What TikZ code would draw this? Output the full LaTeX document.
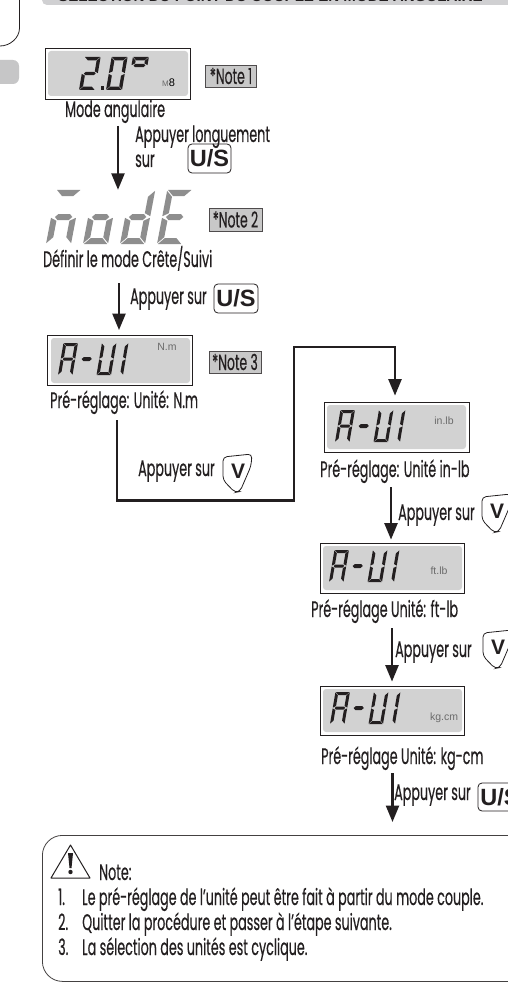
\documentclass[tikz,border=0pt]{standalone}
\usepackage{fontspec}
\usetikzlibrary{arrows.meta}
\setmainfont[FakeStretch=0.565,FakeBold=0.35]{Poppins}
\newfontfamily\keyfont[Ligatures=TeX]{Liberation Sans Bold}
\newfontfamily\unitfont{Liberation Sans}
\definecolor{lcdgrey}{HTML}{D2D2D2}
\definecolor{notegrey}{HTML}{C8C8C8}
\definecolor{headgrey}{HTML}{D0D0D2}
\definecolor{segbig}{HTML}{8E8E8E}
\definecolor{inkc}{HTML}{231F20}
\tikzset{
  txt/.style={inner sep=0pt,anchor=base west,text=inkc,font=\fontsize{22.5}{23}\selectfont},
  lcdframe/.style={draw=inkc,line width=.8pt,fill=white,inner sep=0pt},
  notebox/.style={draw=inkc!80,line width=.8pt,fill=notegrey,inner sep=0pt,text=inkc,font=\fontsize{22}{23}\selectfont},
  uskey/.style={draw=inkc,line width=.8pt,rounded corners=4pt,inner sep=0pt,text=inkc,font=\keyfont\fontsize{23.5}{24}\selectfont},
  vglyph/.style={inner sep=0pt,text=inkc,font=\keyfont\fontsize{21}{21}\selectfont},
  unit/.style={inner sep=0pt,text=black!58,font=\unitfont\fontsize{10.5}{11}\selectfont},
  flow/.style={draw=inkc,line width=2.4pt,-{Triangle[length=16.5pt,width=13pt]}},
  segfill/.style={fill=inkc}
}
% seven segments: cell \W x \H, thickness \T, gap \G
\def\sega{\fill[segfill] (\G,\H) -- (\W-\G,\H) -- (\W-\T-\G,\H-\T) -- (\G+\T,\H-\T) -- cycle;}
\def\segb{\fill[segfill] (\W,\H-\G) -- (\W,\H/2+\G) -- (\W-\T,\H/2+\T/2+\G) -- (\W-\T,\H-\T-\G) -- cycle;}
\def\segc{\fill[segfill] (\W,\G) -- (\W,\H/2-\G) -- (\W-\T,\H/2-\T/2-\G) -- (\W-\T,\T+\G) -- cycle;}
\def\segd{\fill[segfill] (\G,0) -- (\W-\G,0) -- (\W-\T-\G,\T) -- (\G+\T,\T) -- cycle;}
\def\sege{\fill[segfill] (0,\G) -- (0,\H/2-\G) -- (\T,\H/2-\T/2-\G) -- (\T,\T+\G) -- cycle;}
\def\segf{\fill[segfill] (0,\H-\G) -- (0,\H/2+\G) -- (\T,\H/2+\T/2+\G) -- (\T,\H-\T-\G) -- cycle;}
\def\segg{\fill[segfill] (\T/2+\G,\H/2) -- (\T+\G,\H/2+\T/2) -- (\W-\T-\G,\H/2+\T/2) -- (\W-\T/2-\G,\H/2) -- (\W-\T-\G,\H/2-\T/2) -- (\T+\G,\H/2-\T/2) -- cycle;}
\newcommand\lcdchar[3]{\begin{scope}[shift={(#1,#2)},x=1pt,y=1pt,xslant=\Sl]
  \foreach \s in {#3} {\csname seg\s\endcsname}\end{scope}}
\newcommand\auiword[2]{%
  \def\W{14.5}\def\H{32}\def\T{3}\def\G{.4}\def\Sl{.17}%
  \lcdchar{#1}{#2}{a,b,c,e,f,g}%
  \begingroup\def\T{4}\def\W{15}\lcdchar{#1+18.5}{#2}{g}\endgroup
  \lcdchar{#1+38.5}{#2}{b,c,d,e,f}%
  \lcdchar{#1+50.5}{#2}{b,c}}
\newcommand\vkey[3]{\begin{scope}[shift={(#2,#3)}]
  \draw[draw=inkc,line width=.8pt,rounded corners=4pt] (0,1) -- (29,-2) -- (28,10) -- (17,35.5) -- (12,36.5) -- (0,24) -- cycle;
  \node[vglyph] (#1) at (15,15) {V};
  \end{scope}}
\begin{document}
\begin{tikzpicture}[x=1pt,y=-1pt]
\clip (0,0) rectangle (508,995);
\fill[white] (0,0) rectangle (508,995);
% page furniture
\draw[draw=inkc,line width=.8pt] (19.5,-5) -- (19.5,28) .. controls (19.5,38) and (10,46) .. (0,46);
\fill[headgrey,rounded corners=5pt] (42,-20) rectangle (530,5);
\fill[headgrey!95!black,rounded corners=6pt] (-10,60) rectangle (19,84);
\node[txt,font=\keyfont\fontsize{15.1}{16}\selectfont] (head) at (58,2) {SELECTION DU POINT DU COUPLE EN MODE ANGULAIRE};
% display 1
\node[lcdframe,minimum width=145pt,minimum height=50.5pt] (lcdA) at (117.5,73.7) {};
\fill[lcdgrey,rounded corners=3pt] (48,51) rectangle (188,96);
\def\W{16}\def\H{33}\def\T{3.4}\def\G{.4}\def\Sl{.17}
\lcdchar{79}{90}{a,b,d,e,g}
\lcdchar{106}{90}{a,b,c,d,e,f}
\fill[inkc] (100.5,86.5) rectangle (104,90);
\def\H{17}\def\W{16}
\lcdchar{130}{74}{a,b,f,g}
\node[unit,font=\unitfont\fontsize{8}{9}\selectfont,anchor=base west] (unitA) at (162,87) {M\textcolor{black}{\fontsize{11}{11}\selectfont 8}};
\node[notebox,minimum width=51pt,minimum height=22pt] (n1) at (231,76) {*Note 1};
\node[txt] (labA) at (65,117) {Mode angulaire};
\coordinate (a1) at (118,126);
\node[txt] (t1a) at (135,142) {Appuyer longuement};
\node[txt] (t1b) at (135,167) {sur};
\node[uskey,minimum width=43pt,minimum height=29pt] (k1) at (209.5,158.5) {U/S};
% mode
\node[inner sep=0pt,minimum width=144pt,minimum height=54pt] (lcdB) at (118,217) {};
\begin{scope}
\tikzset{segfill/.style={fill=segbig}}
\def\W{25}\def\H{54}\def\T{6}\def\G{.8}\def\Sl{.19}
\lcdchar{46}{244}{a,c,e,g}
\lcdchar{83}{244}{c,d,e,g}
\lcdchar{120}{244}{b,c,d,e,g}
\lcdchar{157}{244}{a,d,e,f,g}
\end{scope}
\node[notebox,minimum width=53pt,minimum height=23pt] (n2) at (235.5,219.5) {*Note 2};
\node[txt] (labB) at (43,267) {Définir le mode Crête/Suivi};
\coordinate (a2) at (119,283);
\node[txt] (t2) at (130,304) {Appuyer sur};
\node[uskey,minimum width=44pt,minimum height=29pt] (k2) at (236,298.5) {U/S};
% N.m
\node[lcdframe,minimum width=145pt,minimum height=49.5pt] (lcdC) at (120,360.2) {};
\fill[lcdgrey,rounded corners=3pt] (51,338) rectangle (190,383);
\auiword{58}{375}
\node[unit] (unitC) at (167,347) {N.m};
\node[notebox,minimum width=52pt,minimum height=22pt] (n3) at (235,362) {*Note 3};
\node[txt] (labC) at (50,408) {Pré-réglage: Unité: N.m};
\coordinate (c0) at (117,420);
\node[txt] (t3) at (138,476) {Appuyer sur};
\vkey{v1}{223}{456}
% in.lb
\node[lcdframe,minimum width=145pt,minimum height=50pt] (lcdD) at (396.5,427) {};
\fill[lcdgrey,rounded corners=3pt] (327,405) rectangle (466,449);
\auiword{335}{442}
\node[unit] (unitD) at (444,421) {in.lb};
\node[txt] (labD) at (320,477) {Pré-réglage: Unité in-lb};
\coordinate (a4) at (391,487);
\node[txt] (t4) at (398,520) {Appuyer sur};
\vkey{v2}{482}{496}
% ft.lb
\node[lcdframe,minimum width=144pt,minimum height=50pt] (lcdE) at (392,568) {};
\fill[lcdgrey,rounded corners=3pt] (323,546) rectangle (462,590);
\auiword{329}{582}
\node[unit] (unitE) at (439,571) {ft.lb};
\node[txt] (labE) at (311,617) {Pré-réglage Unité: ft-lb};
\coordinate (a5) at (392,628);
\node[txt] (t5) at (395,657) {Appuyer sur};
\vkey{v3}{483}{632}
% kg.cm
\node[lcdframe,minimum width=144pt,minimum height=49pt] (lcdF) at (392,710.5) {};
\fill[lcdgrey,rounded corners=3pt] (323,689) rectangle (462,732);
\auiword{330}{724}
\node[unit] (unitF) at (444,718) {kg.cm};
\node[txt] (labF) at (321,764) {Pré-réglage Unité: kg-cm};
\coordinate (a6) at (392.5,773);
\coordinate (a6e) at (392.5,822);
\node[txt] (t6) at (394,800) {Appuyer sur};
\node[uskey,minimum width=44pt,minimum height=28pt] (k3) at (500,797) {U/S};
% connectors
\draw[flow] (a1) -- (a1 |- lcdB.north);
\draw[flow,shorten >=5pt] (a2) -- (a2 |- lcdC.north);
\coordinate (c1) at (294,500.5);
\coordinate (c2) at (395,347);
\draw[flow,shorten >=6pt] (c0) |- (c1) |- (c2) -- (c2 |- lcdD.north);
\draw[flow,shorten >=3pt] (a4) -- (a4 |- lcdE.north);
\draw[flow,shorten >=4pt] (a5) -- (a5 |- lcdF.north);
\draw[flow] (a6) -- (a6e);
% note box
\node[draw=inkc!85,line width=.8pt,rounded corners=20pt,inner sep=0pt,minimum width=520pt,minimum height=146pt,anchor=north west] (notes) at (42,835) {};
\draw[draw=inkc,line width=1pt,line join=round] (70.5,845) -- (90,878) -- (51,878) -- cycle;
\fill[inkc] (68,853) -- (73,853) -- (71.5,868) -- (69.5,868) -- cycle;
\fill[inkc] (70.5,872) circle (2.2pt);
\node[txt] (nt) at (99,880) {Note:};
\node[txt] (n1n) at (58,905) {1.};
\node[txt] (n1t) at (82,905) {Le pré-réglage de l’unité peut être fait à partir du mode couple.};
\node[txt] (n2n) at (58,930) {2.};
\node[txt] (n2t) at (82,930) {Quitter la procédure et passer à l’étape suivante.};
\node[txt] (n3n) at (58,955) {3.};
\node[txt] (n3t) at (82,955) {La sélection des unités est cyclique.};
\end{tikzpicture}
\end{document}
